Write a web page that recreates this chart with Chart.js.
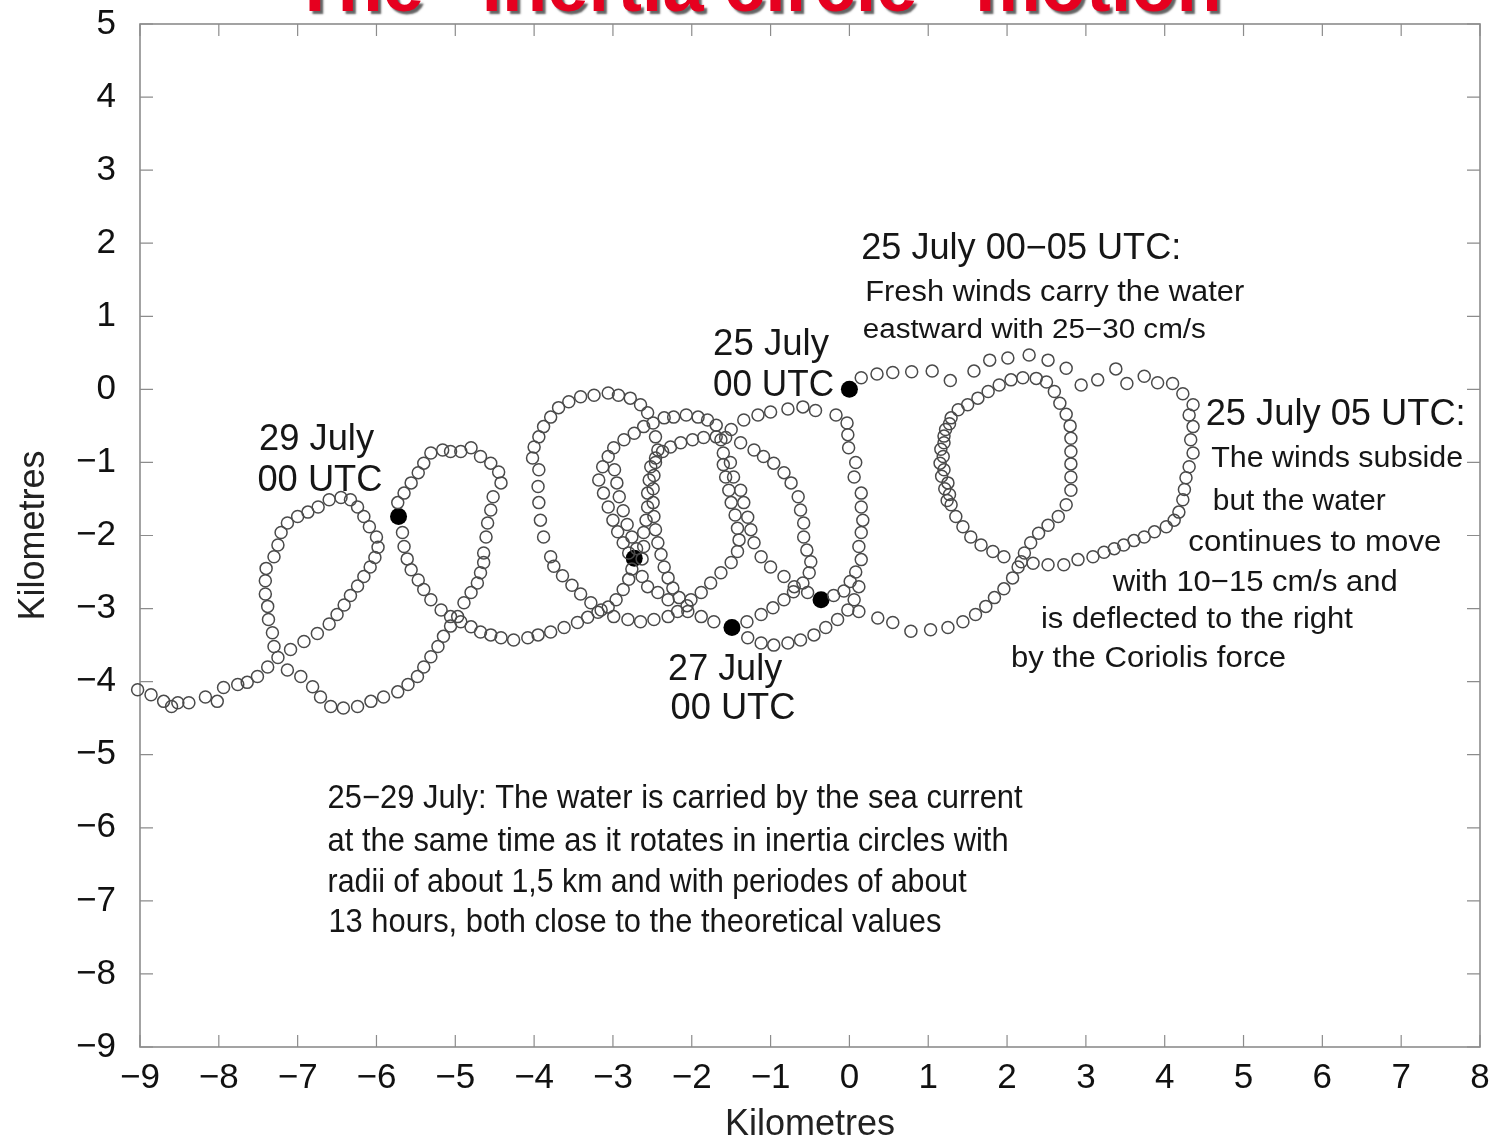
<!DOCTYPE html>
<html>
<head>
<meta charset="utf-8">
<script src="https://cdn.jsdelivr.net/npm/chart.js@4.4.1/dist/chart.umd.min.js"></script>
<style>
html, body { margin: 0; padding: 0; background: #fff; }
#wrap { width: 1493px; height: 1143px; position: relative; }
</style>
</head>
<body>
<div id="wrap"><canvas id="c"></canvas></div>
<script>
// drifter positions (km)
const eastTop = [[0.15,0.16],[0.35,0.21],[0.55,0.23],[0.79,0.24],[1.05,0.25],[1.28,0.12],[1.58,0.25],[1.78,0.40],[2.01,0.43],[2.28,0.47],[2.52,0.40],[2.75,0.29],[2.94,0.06],[3.15,0.13],[3.38,0.28],[3.52,0.08],[3.74,0.18],[3.91,0.09],[4.10,0.08],[4.23,-0.06],[4.36,-0.21]];
const eastLoop = [[4.31,-0.35],[4.36,-0.51],[4.33,-0.69],[4.36,-0.87],[4.31,-1.06],[4.27,-1.21],[4.25,-1.37],[4.23,-1.51],[4.18,-1.68],[4.12,-1.79],[4.02,-1.88],[3.87,-1.95],[3.74,-2.02],[3.61,-2.07],[3.48,-2.13],[3.36,-2.18],[3.23,-2.23],[3.09,-2.29],[2.9,-2.33],[2.72,-2.40],[2.52,-2.40],[2.33,-2.38]];
const innerLoop = [[2.18,-2.36],[1.96,-2.29],[1.82,-2.22],[1.67,-2.13],[1.54,-2.02],[1.44,-1.88],[1.35,-1.74],[1.29,-1.58],[1.27,-1.44],[1.25,-1.28],[1.2,-1.1],[1.19,-0.92],[1.2,-0.73],[1.22,-0.55],[1.29,-0.39],[1.38,-0.28],[1.5,-0.21],[1.63,-0.12],[1.76,-0.03],[1.9,0.06],[2.05,0.13],[2.2,0.16],[2.37,0.15],[2.5,0.1],[2.6,-0.03],[2.67,-0.19],[2.75,-0.34],[2.8,-0.5],[2.81,-0.67],[2.81,-0.85],[2.81,-1.02],[2.81,-1.2],[2.81,-1.38],[2.75,-1.58],[2.65,-1.74],[2.52,-1.86],[2.4,-1.97],[2.3,-2.1],[2.22,-2.24],[2.14,-2.43],[2.07,-2.58],[1.96,-2.73],[1.84,-2.85],[1.73,-2.97],[1.6,-3.08],[1.44,-3.18],[1.25,-3.26],[1.03,-3.29],[0.78,-3.31],[0.55,-3.19],[0.36,-3.13],[0.12,-3.04],
  [1.27,-0.47],[1.2,-0.64],[1.16,-0.82],[1.15,-1.01],[1.17,-1.19],[1.21,-1.36],[1.24,-1.52]];
const c1Top = [[-1.5,-0.55],[-1.34,-0.42],[-1.16,-0.35],[-1.0,-0.31],[-0.78,-0.27],[-0.59,-0.24],[-0.43,-0.29],[-0.17,-0.35],[-0.03,-0.46]];
const c1Right = [[-0.02,-0.62],[-0.01,-0.8],[0.08,-1.0],[0.06,-1.2],[0.15,-1.42],[0.15,-1.61],[0.17,-1.79],[0.15,-1.96],[0.12,-2.15],[0.15,-2.33],[0.08,-2.5],[0.01,-2.63],[-0.07,-2.76],[-0.2,-2.82]];
const c1Left = [[-0.53,-2.78],[-0.7,-2.7],[-0.83,-2.56],[-1.0,-2.43],[-1.12,-2.29],[-1.21,-2.1],[-1.25,-1.92],[-1.29,-1.75],[-1.34,-1.55],[-1.38,-1.38],[-1.47,-1.2],[-1.51,-1.0],[-1.6,-0.87],[-1.63,-0.69]];
const c1Bottom = [[-1.29,-3.4],[-1.12,-3.47],[-0.96,-3.5],[-0.78,-3.47],[-0.62,-3.43],[-0.45,-3.36],[-0.3,-3.26],[-0.15,-3.15],[-0.02,-3.02],[0.06,-2.88],[0.12,-2.7]];
const c2Right = [[-1.38,-0.73],[-1.21,-0.83],[-1.09,-0.92],[-0.96,-1.01],[-0.83,-1.14],[-0.74,-1.28],[-0.65,-1.47],[-0.62,-1.65],[-0.58,-1.83],[-0.58,-2.02],[-0.54,-2.2],[-0.49,-2.36],[-0.51,-2.51],[-0.59,-2.65],[-0.71,-2.77],[-0.83,-2.88],[-0.97,-2.99],[-1.12,-3.08],[-1.3,-3.18]];
const c2Left = [[-2.63,-2.32],[-2.61,-2.15],[-2.61,-1.96],[-2.58,-1.79],[-2.56,-1.61],[-2.56,-1.42],[-2.54,-1.24],[-2.52,-1.06],[-2.46,-0.94],[-2.37,-0.85],[-2.27,-0.79],[-2.14,-0.73],[-1.99,-0.69],[-1.85,-0.66],[-1.69,-0.65],[-1.57,-0.66]];
const midRise = [[-2.01,-2.88],[-1.88,-2.78],[-1.76,-2.65],[-1.63,-2.51],[-1.5,-2.37],[-1.42,-2.22],[-1.4,-2.06],[-1.42,-1.9],[-1.45,-1.72],[-1.5,-1.55],[-1.53,-1.38],[-1.57,-1.2],[-1.6,-1.03]];
const c3Loop = [[-3.18,-1.24],[-3.13,-1.06],[-3.06,-0.92],[-2.99,-0.8],[-2.86,-0.69],[-2.73,-0.6],[-2.61,-0.51],[-2.35,-0.39],[-2.23,-0.38],[-2.07,-0.35],[-1.92,-0.38],[-1.8,-0.42],[-1.69,-0.49],
  [-3.12,-1.42],[-3.06,-1.61],[-3.0,-1.79],[-2.94,-1.95],[-2.87,-2.1],[-2.8,-2.24],
  [-2.98,-1.1],[-2.95,-1.28],[-2.92,-1.47],[-2.87,-1.66],[-2.82,-1.85],[-2.76,-2.02],[-2.7,-2.18]];
const loopLRight = [[-2.46,-1.0],[-2.48,-1.18],[-2.49,-1.36],[-2.49,-1.55],[-2.48,-1.74],[-2.46,-1.92],[-2.43,-2.1],[-2.39,-2.26],[-2.35,-2.43],[-2.3,-2.58],[-2.24,-2.72],[-2.16,-2.85],[-2.06,-2.96]];
const loopL = [[-3.79,-2.29],[-3.88,-2.02],[-3.92,-1.79],[-3.94,-1.55],[-3.95,-1.33],[-3.94,-1.10],[-4.02,-0.94],[-4.0,-0.79],[-3.94,-0.65],[-3.88,-0.51],[-3.79,-0.38],[-3.69,-0.25],[-3.56,-0.17],[-3.41,-0.10],[-3.24,-0.08],[-3.06,-0.05],[-2.93,-0.08],[-2.78,-0.12],[-2.65,-0.21],[-2.56,-0.32],[-2.49,-0.46],[-2.46,-0.65],[-2.43,-0.83],
  [-3.75,-2.42],[-3.64,-2.55],[-3.52,-2.68],[-3.41,-2.8],[-3.28,-2.92],[-3.15,-3.02],[-2.99,-3.11],[-2.81,-3.15],[-2.65,-3.18],[-2.48,-3.15],[-2.3,-3.11],[-2.18,-3.04]];
const toDay28 = [[-1.72,-3.18],[-1.88,-3.11],[-2.05,-3.04],[-2.3,-2.88],[-2.43,-2.78],[-2.56,-2.7],[-2.63,-2.56]];
const fromDay28 = [[-2.76,-2.46],[-2.8,-2.6],[-2.87,-2.74],[-2.96,-2.88],[-3.06,-2.98],[-3.19,-3.05],[-3.32,-3.12],[-3.45,-3.19],[-3.62,-3.26],[-3.79,-3.32],[-3.95,-3.36],[-4.08,-3.4],[-4.26,-3.43]];
const westA = [[-5.67,-1.96],[-5.65,-2.15],[-5.61,-2.32],[-5.56,-2.47],[-5.47,-2.61],[-5.4,-2.74],[-5.31,-2.88],[-5.18,-3.02],[-5.06,-3.11],[-4.93,-3.18],[-4.8,-3.25],[-4.68,-3.32],[-4.55,-3.36],[-4.42,-3.4]];
const westRight = [[-5.73,-1.55],[-5.65,-1.42],[-5.56,-1.28],[-5.47,-1.14],[-5.4,-1.01],[-5.31,-0.87],[-5.16,-0.83],[-5.06,-0.85],[-4.93,-0.85],[-4.8,-0.8],[-4.68,-0.92],[-4.55,-1.01],[-4.45,-1.13],[-4.42,-1.28],[-4.52,-1.47],[-4.55,-1.65],[-4.59,-1.83],[-4.61,-2.02],[-4.64,-2.24],[-4.64,-2.37],[-4.68,-2.51],[-4.72,-2.65],[-4.8,-2.78],[-4.89,-2.92],[-4.97,-3.11],[-5.06,-3.24],[-5.15,-3.38],[-5.22,-3.52],[-5.31,-3.66],[-5.4,-3.8],[-5.48,-3.93],[-5.6,-4.04],[-5.73,-4.14],[-5.91,-4.21],[-6.07,-4.27],[-6.24,-4.34],[-6.42,-4.36],[-6.58,-4.34],[-6.71,-4.21],[-6.81,-4.07],[-6.96,-3.93],[-7.13,-3.84]];
const westLeft = [[-7.09,-3.56],[-6.92,-3.45],[-6.75,-3.34],[-6.6,-3.21],[-6.5,-3.08],[-6.41,-2.95],[-6.33,-2.82],[-6.24,-2.69],[-6.16,-2.56],[-6.08,-2.43],[-6.02,-2.3],[-5.98,-2.16],[-6.0,-2.02],[-6.09,-1.88],[-6.16,-1.74],[-6.24,-1.61],[-6.33,-1.51],[-6.45,-1.48],[-6.6,-1.51],[-6.74,-1.61],[-6.87,-1.68],[-7.0,-1.74],[-7.13,-1.83],[-7.21,-1.96],[-7.25,-2.13],[-7.3,-2.29],[-7.4,-2.45],[-7.41,-2.62],[-7.41,-2.8],[-7.38,-2.97],[-7.37,-3.15],[-7.32,-3.33],[-7.3,-3.52],[-7.25,-3.67]];
const tail = [[-9.03,-4.11],[-8.86,-4.18],[-8.7,-4.27],[-8.6,-4.34],[-8.52,-4.29],[-8.38,-4.29],[-8.17,-4.21],[-8.02,-4.27],[-7.94,-4.08],[-7.76,-4.04],[-7.64,-4.01],[-7.51,-3.93],[-7.38,-3.8]];

// 00 UTC positions, one per day
const dayNames = ['25 July', '26 July', '27 July', '28 July', '29 July'];
const dayX = [0, -0.36, -1.49, -2.73, -5.72];
const dayY = [0, -2.88, -3.26, -2.31, -1.74];

const FONT = '"Liberation Sans", Arial, Helvetica, sans-serif';

// text notes placed in km, size in px, width = fitted line width in px
const notes = [
  {t: '25 July 00\u221205 UTC:', x: 0.15, y: 1.96, s: 36, w: 320},
  {t: 'Fresh winds carry the water', x: 0.2, y: 1.36, s: 30, w: 379},
  {t: 'eastward with 25\u221230 cm/s', x: 0.17, y: 0.84, s: 27, w: 343},
  {t: '25 July', x: -1.73, y: 0.64, s: 36, w: 116},
  {t: '00 UTC', x: -1.73, y: 0.09, s: 36, w: 121},
  {t: '25 July 05 UTC:', x: 4.52, y: -0.31, s: 36, w: 260},
  {t: 'The winds subside', x: 4.59, y: -0.92, s: 30, w: 252},
  {t: 'but the water', x: 4.61, y: -1.5, s: 30, w: 173},
  {t: 'continues to move', x: 4.3, y: -2.07, s: 30, w: 253},
  {t: 'with 10\u221215 cm/s and', x: 3.34, y: -2.61, s: 30, w: 285},
  {t: 'is deflected to the right', x: 2.43, y: -3.12, s: 30, w: 312},
  {t: 'by the Coriolis force', x: 2.05, y: -3.66, s: 29, w: 275},
  {t: '29 July', x: -7.49, y: -0.65, s: 36, w: 115},
  {t: '00 UTC', x: -7.51, y: -1.21, s: 36, w: 125},
  {t: '27 July', x: -2.3, y: -3.8, s: 36, w: 114},
  {t: '00 UTC', x: -2.27, y: -4.34, s: 36, w: 125},
  {t: '25\u221229 July: The water is carried by the sea current', x: -6.62, y: -5.57, s: 33, w: 695},
  {t: 'at the same time as it rotates in inertia circles with', x: -6.62, y: -6.15, s: 33, w: 681},
  {t: 'radii of about 1,5 km and with periodes of about', x: -6.62, y: -6.72, s: 33, w: 639},
  {t: '13 hours, both close to the theoretical values', x: -6.61, y: -7.26, s: 33, w: 613}
];

const strands = [eastTop, eastLoop, innerLoop, c1Top, c1Right, c1Left, c1Bottom, c2Right, c2Left, midRise, c3Loop, loopLRight, loopL, toDay28, fromDay28, westA, westRight, westLeft, tail];
const track = strands.flat().map(([x, y]) => ({x, y}));
const days = dayX.map((x, i) => ({x, y: dayY[i]}));

const minus = v => (v < 0 ? '\u2212' + Math.abs(v) : String(v));

// box + inward ticks on all four sides
const frame = {
  id: 'frame',
  beforeDatasetsDraw(chart) {
    const {ctx, chartArea: a, scales: {x, y}} = chart;
    ctx.save();
    ctx.strokeStyle = '#8c8c8c';
    ctx.lineWidth = 1.2;
    ctx.beginPath();
    x.ticks.forEach(t => {
      const p = x.getPixelForValue(t.value);
      ctx.moveTo(p, a.bottom); ctx.lineTo(p, a.bottom - 12);
      ctx.moveTo(p, a.top); ctx.lineTo(p, a.top + 12);
    });
    y.ticks.forEach(t => {
      const p = y.getPixelForValue(t.value);
      ctx.moveTo(a.left, p); ctx.lineTo(a.left + 13, p);
      ctx.moveTo(a.right, p); ctx.lineTo(a.right - 13, p);
    });
    ctx.stroke();
    ctx.lineWidth = 1.6;
    ctx.strokeRect(a.left, a.top, a.right - a.left, a.bottom - a.top);
    ctx.restore();
  }
};

const labels = {
  id: 'labels',
  afterDatasetsDraw(chart) {
    const {ctx, scales: {x, y}} = chart;
    ctx.save();
    ctx.fillStyle = '#161616';
    ctx.textAlign = 'left';
    ctx.textBaseline = 'alphabetic';
    notes.forEach(n => {
      ctx.font = n.s + 'px ' + FONT;
      const k = n.w / ctx.measureText(n.t).width;
      ctx.save();
      ctx.translate(x.getPixelForValue(n.x), y.getPixelForValue(n.y) + 0.358 * n.s);
      ctx.scale(k, 1);
      ctx.fillText(n.t, 0, 0);
      ctx.restore();
    });
    // headline, mostly cut off by the top edge
    ctx.font = 'bold 74px ' + FONT;
    ctx.textAlign = 'center';
    ctx.fillStyle = '#e6001f';
    ctx.shadowColor = 'rgba(60,60,60,0.8)';
    ctx.shadowOffsetX = 3;
    ctx.shadowOffsetY = 3;
    ctx.shadowBlur = 2;
    ctx.fillText('The \u201cinertia circle\u201d motion', 757, 11);
    ctx.restore();
  }
};

new Chart(document.getElementById('c'), {
  type: 'scatter',
  data: {
    datasets: [
      {
        label: 'track',
        data: track,
        pointStyle: 'circle',
        pointRadius: 6,
        borderWidth: 1.5,
        borderColor: '#4a4a4a',
        backgroundColor: 'rgba(0,0,0,0)',
        clip: false
      },
      {
        label: '00 UTC',
        data: days,
        pointRadius: 8.5,
        borderWidth: 0,
        backgroundColor: '#000',
        clip: false
      }
    ]
  },
  options: {
    responsive: true,
    maintainAspectRatio: false,
    animation: false,
    events: [],
    layout: {padding: {top: 24, right: 13, left: 0, bottom: 0}},
    plugins: {legend: {display: false}, tooltip: {enabled: false}},
    scales: {
      x: {
        type: 'linear', min: -9, max: 8,
        grid: {display: false, drawTicks: false},
        border: {display: false},
        ticks: {stepSize: 1, padding: 10, color: '#111', font: {family: FONT, size: 35}, callback: minus, maxRotation: 0},
        title: {display: true, text: 'Kilometres', color: '#222', font: {family: FONT, size: 36}, padding: {top: 0, bottom: -4}},
        afterFit(s) { s.height = 96; s.paddingLeft = 0; s.paddingRight = 0; }
      },
      y: {
        type: 'linear', min: -9, max: 5,
        grid: {display: false, drawTicks: false},
        border: {display: false},
        ticks: {stepSize: 1, padding: 24, color: '#111', font: {family: FONT, size: 35}, callback: minus},
        title: {display: true, text: 'Kilometres', color: '#222', font: {family: FONT, size: 36}, padding: {top: 12, bottom: 0}},
        afterFit(s) { s.width = 140; s.paddingTop = 0; s.paddingBottom = 0; }
      }
    }
  },
  plugins: [frame, labels]
});
</script>
</body>
</html>
